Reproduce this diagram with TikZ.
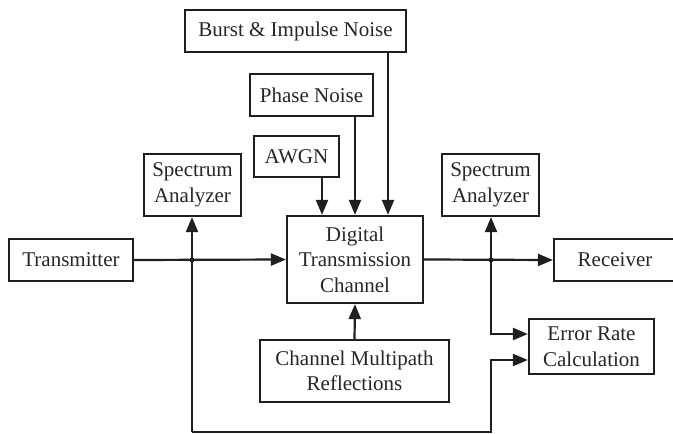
\documentclass[tikz,border=0pt]{standalone}
\usepackage{fontspec}
\setmainfont{Liberation Serif}
\usetikzlibrary{arrows.meta}
\begin{document}
\begin{tikzpicture}[x=1bp,y=-1bp,
  box/.style={draw=black!88,line width=2.2bp,align=center,inner sep=0pt,
    font=\fontsize{21bp}{25.5bp}\selectfont,text=black!85},
  arr/.style={draw=black!88,line width=2.2bp,-{Triangle[length=15bp,width=12bp]}},
  dot/.style={circle,fill=black!88,inner sep=0pt,minimum size=5bp}]
\useasboundingbox (0,0) rectangle (673,434);
\clip (0,0) rectangle (673,434);
\node[box,minimum width=221bp,minimum height=42bp] (burst) at (295.5,31) {Burst \& Impulse Noise};
\node[box,minimum width=123bp,minimum height=42bp] (phase) at (311.5,95) {Phase Noise};
\node[box,minimum width=85bp,minimum height=41bp] (awgn) at (296.5,156.5) {AWGN};
\node[box,minimum width=97bp,minimum height=62bp] (specL) at (192.5,185) {Spectrum\\Analyzer};
\node[box,minimum width=97bp,minimum height=62bp] (specR) at (490.5,185) {Spectrum\\Analyzer};
\node[box,minimum width=136bp,minimum height=87bp] (dtc) at (355,259.5) {Digital\\Transmission\\Channel};
\node[box,minimum width=124bp,minimum height=42bp] (tx) at (71,260) {Transmitter};
\node[box,minimum width=122bp,minimum height=42bp] (rx) at (615,260) {Receiver};
\node[box,minimum width=125bp,minimum height=55bp] (err) at (591.5,346.5) {Error Rate\\Calculation};
\node[box,minimum width=189bp,minimum height=62bp] (cmr) at (354.5,371) {Channel Multipath\\Reflections};
\coordinate (xb) at (388,0);
\coordinate (xp) at (355,0);
\coordinate (xa) at (322,0);
\coordinate (ybot) at (0,432);
\coordinate (yerr1) at (0,334);
\coordinate (yerr2) at (0,360);
\node[dot] (j1) at (192,260) {};
\node[dot] (j2) at (491,260) {};
% noise inputs
\draw[arr] (burst.south -| xb) -- (dtc.north -| xb);
\draw[arr] (phase.south -| xp) -- (dtc.north -| xp);
\draw[arr] (awgn.south -| xa) -- (dtc.north -| xa);
\draw[arr] (cmr.north) -- (dtc.south);
% main path
\draw[arr] (tx.east) -- (dtc.west);
\draw[arr] (dtc.east) -- (rx.west);
% left tap
\draw[arr] (j1 |- ybot) -- (j1.center) -- (j1 |- specL.south);
\draw[arr] (j1 |- ybot) -- (j2 |- ybot) -- (j2 |- yerr2) -- (err.west |- yerr2);
% right tap
\draw[arr] (j2.center) -- (j2 |- specR.south);
\draw[arr] (j2.center) -- (j2 |- yerr1) -- (err.west |- yerr1);
\end{tikzpicture}
\end{document}
